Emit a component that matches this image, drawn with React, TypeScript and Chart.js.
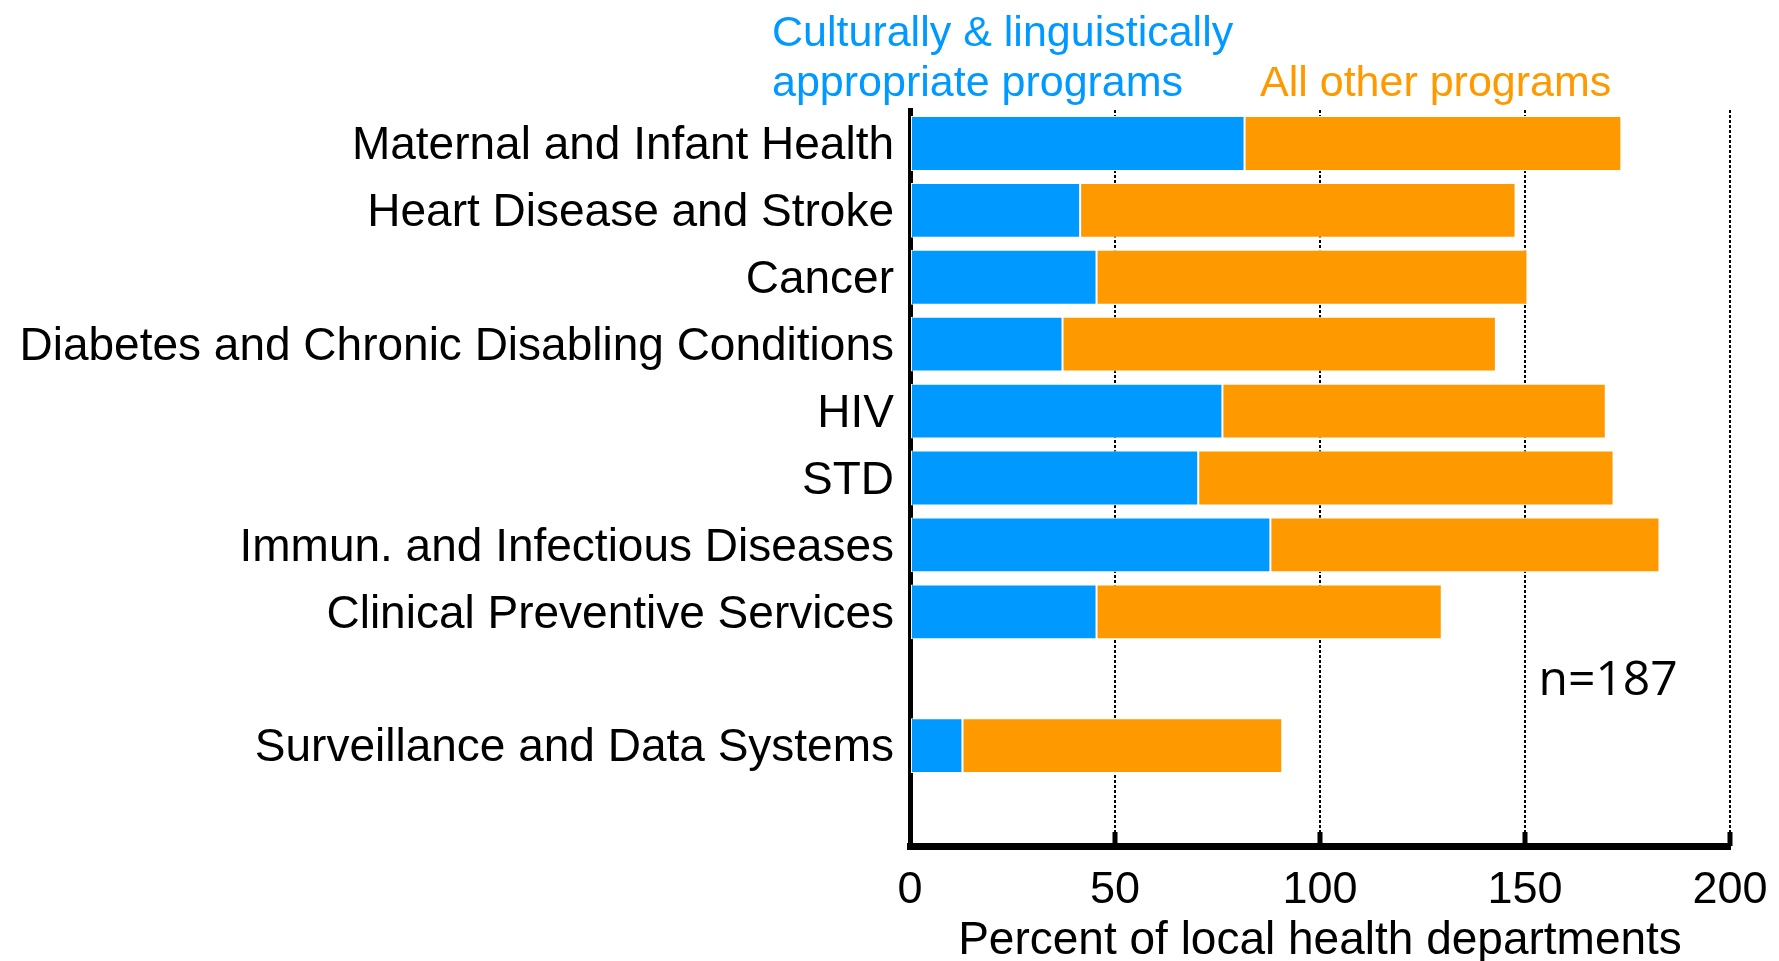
import React, { useEffect, useRef } from "react";
import { Chart, registerables } from "chart.js";

Chart.register(...registerables);

const categories: string[] = [
  "Maternal and Infant Health",
  "Heart Disease and Stroke",
  "Cancer",
  "Diabetes and Chronic Disabling Conditions",
  "HIV",
  "STD",
  "Immun. and Infectious Diseases",
  "Clinical Preventive Services",
  "",
  "Surveillance and Data Systems",
  "",
];

const culturalValues: (number | null)[] = [81.6, 41.5, 45.5, 37.2, 76.2, 70.3, 87.9, 45.5, null, 12.8, null];
const otherValues: (number | null)[] = [91.9, 106.2, 105.1, 105.7, 93.5, 101.3, 94.9, 84.2, null, 78.0, null];

const xTicks: number[] = [0, 50, 100, 150, 200];

const legendBlueLines: string[] = ["Culturally & linguistically", "appropriate programs"];
const legendOrange = "All other programs";
const sampleNote = "n=187";
const xTitle = "Percent of local health departments";

const BLUE = "#0099FF";
const ORANGE = "#FF9900";
const FONT = "'Liberation Sans', Arial, sans-serif";

export default function App() {
  const ref = useRef<HTMLCanvasElement | null>(null);

  useEffect(() => {
    if (!ref.current) return;
    const overlay = {
      id: "overlay",
      afterDatasetsDraw(chart: any) {
        const ctx = chart.ctx;
        const xs = chart.scales.x;
        const ys = chart.scales.y;
        const area = chart.chartArea;
        ctx.save();
        // inward tick marks on bottom axis
        ctx.fillStyle = "#000";
        xTicks.forEach((v) => {
          if (v === 0) return;
          const px = xs.getPixelForValue(v);
          ctx.fillRect(px - 2.5, area.bottom - 14, 5, 14);
        });
        // n note
        ctx.font = "48px 'Open Sans', sans-serif";
        ctx.textAlign = "left";
        ctx.textBaseline = "middle";
        ctx.fillStyle = "#000";
        ctx.fillText(sampleNote, xs.getPixelForValue(153.3), ys.getPixelForValue(8) + 3);
        // legend texts
        ctx.font = `43px ${FONT}`;
        ctx.textBaseline = "alphabetic";
        ctx.fillStyle = BLUE;
        ctx.fillText(legendBlueLines[0], 772, 46);
        ctx.fillText(legendBlueLines[1], 772, 96);
        ctx.fillStyle = ORANGE;
        ctx.fillText(legendOrange, 1260, 96);
        ctx.restore();
      },
    };

    const chart = new Chart(ref.current, {
      type: "bar",
      data: {
        labels: categories,
        datasets: [
          {
            label: legendBlueLines.join(" "),
            data: culturalValues as any,
            backgroundColor: BLUE,
            borderColor: "#ffffff",
            borderWidth: 1,
            borderSkipped: false,
            barPercentage: 0.82,
            categoryPercentage: 1,
          },
          {
            label: legendOrange,
            data: otherValues as any,
            backgroundColor: ORANGE,
            borderColor: "#ffffff",
            borderWidth: 1,
            borderSkipped: false,
            barPercentage: 0.82,
            categoryPercentage: 1,
          },
        ],
      },
      options: {
        indexAxis: "y",
        animation: false,
        responsive: false,
        maintainAspectRatio: false,
        layout: { padding: { top: 110, right: 49, left: 0, bottom: 0 } },
        plugins: {
          legend: { display: false },
          tooltip: { enabled: false },
          title: { display: false },
        },
        scales: {
          x: {
            type: "linear",
            stacked: true,
            min: 0,
            max: 200,
            afterBuildTicks: (scale: any) => {
              scale.ticks = xTicks.map((v) => ({ value: v }));
            },
            afterFit: (scale: any) => {
              scale.height = 115;
              scale.paddingLeft = 0;
              scale.paddingRight = 0;
            },
            grid: {
              display: true,
              drawOnChartArea: true,
              drawTicks: false,
              color: (c: any) => (c.tick && c.tick.value === 0 ? "rgba(0,0,0,0)" : "#000"),
              lineWidth: 2,
            },
            border: { display: true, color: "#000", width: 7, dash: [3, 2] },
            ticks: {
              color: "#000",
              font: { family: FONT, size: 45 },
              padding: 18,
              maxRotation: 0,
              autoSkip: false,
            },
            title: {
              display: true,
              text: xTitle,
              color: "#000",
              font: { family: FONT, size: 46, lineHeight: 1 },
              padding: { top: 0, bottom: -3 },
            },
          },
          y: {
            type: "category",
            stacked: true,
            afterFit: (scale: any) => {
              scale.width = 910;
            },
            grid: { display: false, drawTicks: false },
            border: { display: true, color: "#000", width: 5 },
            ticks: {
              color: "#000",
              font: { family: FONT, size: 46 },
              padding: 16,
              labelOffset: 3,
              autoSkip: false,
            },
          },
        },
      },
      plugins: [overlay],
    });
    return () => chart.destroy();
  }, []);

  return (
    <div style={{ position: "absolute", left: 0, top: 0, width: 1779, height: 961, background: "#fff" }}>
      <canvas ref={ref} width={1779} height={961} style={{ display: "block", width: 1779, height: 961 }} />
    </div>
  );
}
